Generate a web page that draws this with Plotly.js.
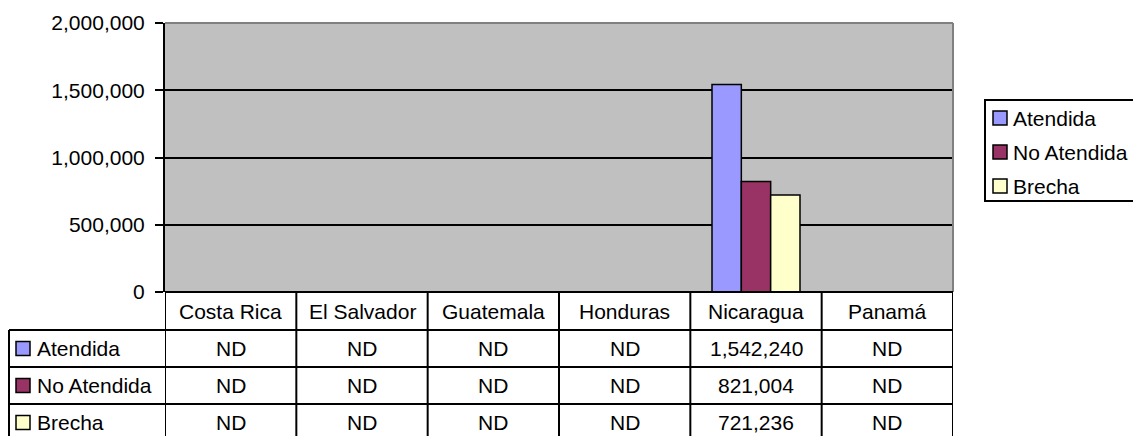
<!DOCTYPE html>
<html>
<head>
<meta charset="utf-8">
<script src="https://cdn.plot.ly/plotly-3.0.1.min.js"></script>
<style>html,body{margin:0;padding:0;background:#fff;}#chart{width:1133px;height:436px;}</style>
</head>
<body>
<div id="chart"></div>
<script>
// ---- data ----
const categories = ['Costa Rica', 'El Salvador', 'Guatemala', 'Honduras', 'Nicaragua', 'Panamá'];
const atendida   = [null, null, null, null, 1542240, null];
const noAtendida = [null, null, null, null, 821004, null];
const brecha     = [null, null, null, null, 721236, null];
const seriesNames = ['Atendida', 'No Atendida', 'Brecha'];
const yTickVals  = [0, 500000, 1000000, 1500000, 2000000];
const yTickText  = ['0', '500,000', '1,000,000', '1,500,000', '2,000,000'];

// ---- styles / layout ----
const seriesValues = [atendida, noAtendida, brecha];
const colors = ['#9999FF', '#993366', '#FFFFCC'];
const FONT = 'Liberation Sans, Arial, sans-serif';
const FS = 21;
const W = 1133, H = 436;
const M = {l: 165, r: 180, t: 23, b: 144};
const PW = W - M.l - M.r, PH = H - M.t - M.b;
const py = p => (H - M.b - p) / PH;   // pixel y -> paper y
const px = p => (p - M.l) / PW;       // pixel x -> paper x

const traces = seriesValues.map((vals, i) => ({
  type: 'bar', name: seriesNames[i], x: categories, y: vals,
  marker: {color: colors[i], line: {color: '#000', width: 1.5}},
  showlegend: false, hoverinfo: 'skip'
}));

const shapes = [], annotations = [];
const lineStyle = {color: '#000', width: 2};
// plot border (gray top and right)
shapes.push({type: 'line', xref: 'paper', yref: 'paper', x0: 0, x1: 1, y0: 1, y1: 1, line: {color: '#808080', width: 2}});
shapes.push({type: 'line', xref: 'paper', yref: 'paper', x0: 1, x1: 1, y0: 0, y1: 1, line: {color: '#808080', width: 2}});

// table geometry (pixels)
const rowLines = [292, 330, 367, 404, 441];
const tableLeft = 9;
// horizontal lines
shapes.push({type: 'line', xref: 'paper', yref: 'paper', x0: 0, x1: 1, y0: py(rowLines[0]), y1: py(rowLines[0]), line: lineStyle});
for (let r = 1; r < rowLines.length; r++) {
  shapes.push({type: 'line', xref: 'paper', yref: 'paper', x0: px(tableLeft), x1: 1, y0: py(rowLines[r]), y1: py(rowLines[r]), line: lineStyle});
}
// vertical lines
shapes.push({type: 'line', xref: 'paper', yref: 'paper', x0: px(tableLeft), x1: px(tableLeft), y0: py(rowLines[1]), y1: py(rowLines[4]), line: lineStyle});
for (let c = 0; c <= categories.length; c++) {
  shapes.push({type: 'line', xref: 'x', yref: 'paper', x0: c - 0.5, x1: c - 0.5, y0: py(rowLines[0]), y1: py(rowLines[4]), line: lineStyle});
}
// header text
categories.forEach((cat, c) => {
  annotations.push({xref: 'x', yref: 'paper', x: c, y: py((rowLines[0] + rowLines[1]) / 2), text: cat,
    showarrow: false, xanchor: 'center', yanchor: 'middle', font: {family: FONT, size: FS, color: '#000'}});
});
// rows
const fmt = v => v == null ? 'ND' : v.toLocaleString('en-US');
seriesNames.forEach((name, s) => {
  const yc = (rowLines[s + 1] + rowLines[s + 2]) / 2;
  shapes.push({type: 'rect', xref: 'paper', yref: 'paper', x0: px(16), x1: px(30), y0: py(yc - 7), y1: py(yc + 7),
    fillcolor: colors[s], line: {color: '#000', width: 1.5}});
  annotations.push({xref: 'paper', yref: 'paper', x: px(35), y: py(yc), text: name, showarrow: false,
    xanchor: 'left', yanchor: 'middle', font: {family: FONT, size: FS, color: '#000'}});
  seriesValues[s].forEach((v, c) => {
    annotations.push({xref: 'x', yref: 'paper', x: c, y: py(yc), text: fmt(v), showarrow: false,
      xanchor: 'center', yanchor: 'middle', font: {family: FONT, size: FS, color: '#000'}});
  });
});

// legend (right)
shapes.push({type: 'rect', xref: 'paper', yref: 'paper', x0: px(985), x1: px(1134), y0: py(100), y1: py(201),
  line: {color: '#000', width: 2}, fillcolor: 'rgba(0,0,0,0)'});
const legY = [118, 152, 186];
seriesNames.forEach((name, s) => {
  shapes.push({type: 'rect', xref: 'paper', yref: 'paper', x0: px(993), x1: px(1007), y0: py(legY[s] - 7), y1: py(legY[s] + 7),
    fillcolor: colors[s], line: {color: '#000', width: 1.5}});
  annotations.push({xref: 'paper', yref: 'paper', x: px(1011), y: py(legY[s]), text: name, showarrow: false,
    xanchor: 'left', yanchor: 'middle', font: {family: FONT, size: FS, color: '#000'}});
});

const layout = {
  width: W, height: H, margin: M,
  paper_bgcolor: '#fff', plot_bgcolor: '#C0C0C0',
  font: {family: FONT, size: FS, color: '#000'},
  barmode: 'group', bargap: 0.33, bargroupgap: 0,
  showlegend: false,
  xaxis: {type: 'category', showticklabels: false, showgrid: false, zeroline: false, showline: false, ticks: '',
    range: [-0.5, categories.length - 0.5], fixedrange: true},
  yaxis: {range: [0, 2000000], tickvals: yTickVals, ticktext: yTickText, showgrid: true, gridcolor: '#000', gridwidth: 2,
    zeroline: false, showline: true, linecolor: '#000', linewidth: 2, ticks: 'outside', ticklen: 8, tickwidth: 2,
    tickcolor: '#000', ticklabelstandoff: 6, tickfont: {family: FONT, size: FS, color: '#000'}, fixedrange: true},
  shapes: shapes, annotations: annotations
};

Plotly.newPlot('chart', traces, layout, {staticPlot: true, displayModeBar: false});
</script>
</body>
</html>
